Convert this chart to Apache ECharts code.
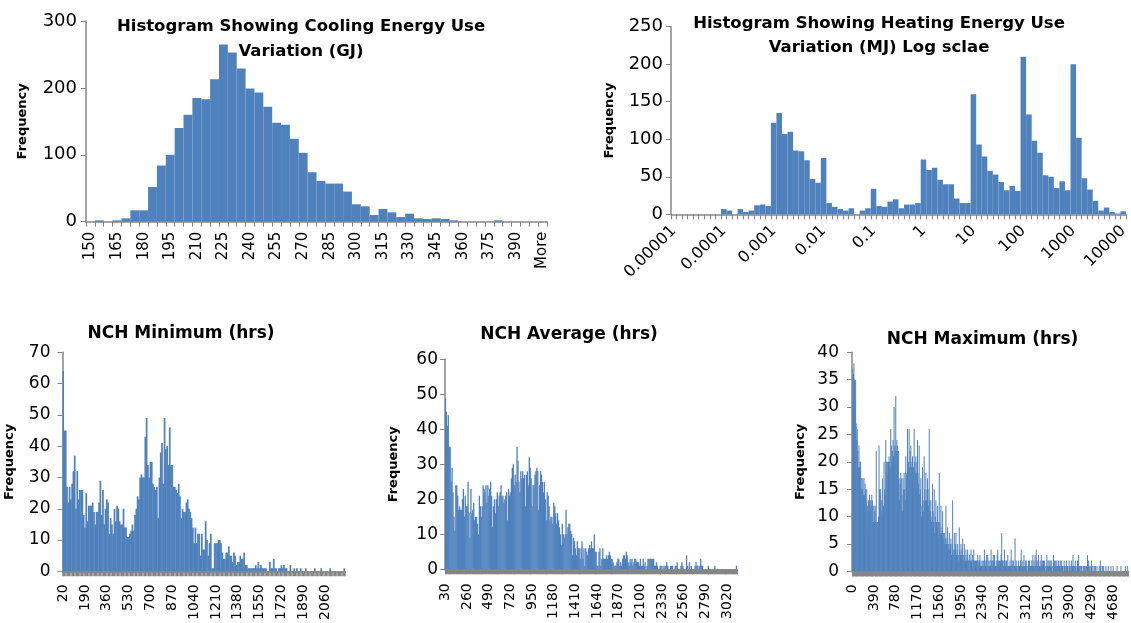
<!DOCTYPE html>
<html><head><meta charset="utf-8">
<script src="https://cdn.jsdelivr.net/npm/echarts@6/dist/echarts.min.js"></script>
<style>html,body{margin:0;padding:0;background:#fff}#c{width:1131px;height:623px}</style>
</head><body><div id="c"></div>
<script>
// ---------- DATA ----------
// Cooling energy (GJ): bins 150..400 step 5, plus "More"
const coolingStart = 150, coolingStep = 5, coolingLast = 400;
const coolingValues = [0,2,0,2,5,17,17,52,84,100,140,160,185,183,213,265,253,229,199,193,172,148,145,124,103,74,61,57,57,45,26,23,10,19,14,7,12,5,4,5,4,2,0,0,0,0,2,0,0,0,0,0];

// Heating energy (MJ), log bins: 1..9 x 10^k for k=-5..3, then 10000
const heatingDecadeLabels = ["0.00001","0.0001","0.001","0.01","0.1","1","10","100","1000","10000"];
const heatingValues = [0,0,0,0,0,0,0,0,0, 7,5,0,7,3,5,12,13,11, 122,135,107,110,85,84,72,47,42, 75,15,10,7,5,8,0,5,8, 34,11,10,17,20,8,13,13,15, 73,59,62,46,40,40,21,15,15, 160,93,77,58,53,43,32,38,31, 210,133,98,82,52,50,35,44,32, 200,102,48,33,18,5,9,3,1, 4];

// NCH Minimum (hrs): bins from 20, step 10
const minStart = 20, minStep = 10;
const minValues = [64,45,45,27,22,27,23,28,32,37, 20,32,23,26,26,26,18,14,25,16, 21,21,21,22,19,15,19,19,22,29, 18,26,15,20,23,22,12,17,15,12, 20,16,21,20,16,15,15,20,14,14, 11,11,12,13,15,13,18,20,24,23, 30,31,30,30,43,49,34,30,35,35, 28,27,26,27,17,30,38,41,28,49, 39,40,34,46,34,34,27,27,26,25, 28,24,17,20,19,19,22,23,20,19, 17,14,9,14,9,12,12,5,12,7, 7,16,10,5,9,12,1,1,9,9, 9,10,10,9,6,4,4,6,6,8, 5,5,3,6,5,2,3,3,5,4, 4,6,2,2,1,1,1,1,1,1, 2,1,3,1,2,1,1,1,1,0, 0,3,1,1,4,1,1,0,1,1, 2,1,2,1,1,0,0,2,0,0, 1,0,1,0,0,1,0,0,0,1, 0,0,0,0,0,0,1,0,0,0, 0,1,0,0,0,0,0,0,1,0, 0,0,0,0,0,0,0,0,0,1];

// NCH Average (hrs): bins from 30, step 10
const avgStart = 30, avgStep = 10;
const avgValues = [49,45,41,44,35,35,25,29,22,15,11,24,24,21,17, 18, 17,17,20,23,15,21,18,18,25,16,9,23,16,17,19, 14, 15,15,13,10,21,18,15,18,24,23,22,24,19,24,21, 23, 25,21,12,18,20,16,20,22,18,21,22,24,21,21,19, 20, 21,22,14,23,21,22,26,29,30,24, 27, 25,35,31,25,22,28,26,28,26,27,18,27,28,24,32, 29, 26,18,24,24,27,28,29,28,17,24,28,27,25,22,25, 20, 14,22,21,18,14,15,15,13,19,18,16,13,16,14,12, 10, 7,13,10,9,10,17,10,12,13,13,11,10,4,9,8, 6, 4,8,6,6,3,6,8,3,6,1,6, 5, 4,6,7,6,8,
 6,6,10,5,5,1,1,5,6,1,3,6,3,3,3,4,3,4, 5, 4,3,3,2,1,1,1,2,3,3,1,2,1,3,4,4,3,5, 4, 2,1,3,2,3,1,2,3,3,2,2,2,1,3,1,1,3,1, 2, 0,1,3,3,3,3,3,3,3,1,1,2,1,0,0,1,1,0, 1, 0,1,1,2,1,0,0,1,1,1,0,0,1,1,2,0,0,0, 1, 2,1,0,0,0,4,1,0,2,0,1,0,0,0,1,2,1,1, 0, 1,3,1,1,0,0,0,0,0,1,0,0,0,0,0,0,1,0, 0, 0,0,0,0,0,0,0,0,0,0,0,0,0,0,0,0,0,0,0,0,1];

// NCH Maximum (hrs): bins from 0, step 10
const maxStart = 0, maxStep = 10;
const maxValues = [
31,37,36, 38,35,31, 35,27,24, 26,22,19, 23,19,20, 20,15,17, 15,17,14, 17,14,16, 15,13,15, 12,11,13,
7,14,11, 13,12,14, 13,12,9, 12,11,12, 9,22,9, 9,8,10, 23,15,14, 15,11,13, 17,10,12, 20,15,14,
24,20,18, 20,15,20, 21,20,19, 26,23,20, 22,24,21, 30,23,22, 32,22,24, 23,17,22, 17,13,16, 18,17,14,
11,17,15, 18,15,13, 21,18,17, 26,18,20, 26,19,22, 23,19,20, 21,16,19, 26,20,18, 21,18,20, 24,18,16,
23,14,15, 17,10,12, 19,13,11, 21,15,13, 18,13,15, 17,15,12, 26,13,11, 13,9,10, 16,11,9, 15,7,10,
13,9,8, 12,6,9, 18,9,7, 12,7,8, 11,6,7, 7,5,6, 12,5,6, 8,4,5, 7,4,5, 6,3,5,
13,4,3, 7,4,5, 7,3,4, 5,3,2, 8,4,3, 5,3,4, 6,3,2, 5,3,2, 4,2,3, 4,2,2,
3,0,2, 4,2,1, 3,2,4, 2,1,2, 1,2,2, 3,1,2, 2,3,1, 2,1,1, 2,1,2, 4,2,1,
2,3,1, 3,1,2, 1,2,1, 4,2,1, 2,3,2, 3,1,1, 2,1,3, 4,2,1, 2,1,2, 3,7,2,
2,1,2, 4,2,1, 2,2,1, 3,1,1, 1,2,1, 4,1,2, 1,2,0, 1,6,1, 2,1,1, 0,2,1,
1,1,2, 4,1,1, 2,1,3, 1,1,2, 2,1,0, 1,2,1, 2,1,1, 1,2,1, 3,1,2, 1,3,1,
4,2,1, 2,3,1, 1,2,1, 3,1,2, 1,2,1, 2,1,0, 1,3,1, 2,1,2, 1,2,1, 2,1,0,
1,3,1, 2,1,2, 1,2,1, 0,2,1, 1,2,1, 2,1,1, 1,0,2, 1,1,0, 2,1,1, 1,0,2,
1,1,0, 2,1,1, 3,1,0, 1,2,1, 0,1,2, 1,3,1, 1,0,1, 1,1,0, 0,1,1, 1,0,1,
1,0,3, 1,2,0, 1,0,1, 2,1,0, 1,0,0, 1,1,0, 0,1,0, 0,0,1, 0,2,1, 0,0,1,
0,1,0, 0,0,1, 0,0,0, 1,0,0, 0,0,1, 0,0,0, 1,0,0, 0,0,0, 0,1,0, 0,0,0,
0,0,1, 0,0,0, 0,0,0, 0,1,0, 0,0,1, 0];

// ---------- CATEGORIES ----------
function binCats(start, step, n) { const a = []; for (let i = 0; i < n; i++) a.push(String(start + i * step)); return a; }
const coolingCats = binCats(coolingStart, coolingStep, (coolingLast - coolingStart) / coolingStep + 1).concat(["More"]);
const heatingCats = [];
for (let d = 0; d < 9; d++) { for (let m = 1; m <= 9; m++) heatingCats.push(m === 1 ? heatingDecadeLabels[d] : (m + "e" + (d - 5))); }
heatingCats.push(heatingDecadeLabels[9]);
const minCats = binCats(minStart, minStep, minValues.length);
const avgCats = binCats(avgStart, avgStep, avgValues.length);
const maxCats = binCats(maxStart, maxStep, maxValues.length);

// ---------- CHART ----------
const FONT = 'DejaVu Sans';
const AX = '#868686';
const BAR = '#4F81BD';

const grids = [
  {left: 86, top: 21, width: 461, height: 200.7},
  {left: 671, top: 26.7, width: 457, height: 187.6},
  {left: 62.5, top: 352.3, width: 282.5, height: 221.7},
  {left: 445, top: 359.3, width: 292, height: 210},
  {left: 852, top: 352.3, width: 276.5, height: 221}
];

function xAx(i, cats, o) {
  return {
    type: 'category', gridIndex: i, data: cats,
    axisLine: {show: true, lineStyle: {color: AX, width: 1.5}},
    axisTick: {show: true, interval: 0, length: o.tickLen, lineStyle: {color: AX, width: o.tickW}},
    axisLabel: {interval: o.interval, rotate: o.rotate, fontSize: o.fs, fontFamily: FONT, color: '#000', margin: o.margin},
    splitLine: {show: false}
  };
}
function yAx(i, max, interval, o) {
  return {
    type: 'value', gridIndex: i, min: 0, max: max, interval: interval,
    axisLine: {show: true, lineStyle: {color: AX, width: 1.5}},
    axisTick: {show: true, length: 5, lineStyle: {color: AX, width: 1}},
    splitLine: {show: false},
    axisLabel: {fontSize: o.fs, fontFamily: FONT, color: '#000', margin: o.margin},
    name: 'Frequency', nameLocation: 'middle', nameGap: o.nameGap, nameRotate: 90,
    nameTextStyle: {fontWeight: 'bold', fontSize: 13, fontFamily: FONT, color: '#000'}
  };
}
function ser(i, data, gap) {
  return {type: 'bar', xAxisIndex: i, yAxisIndex: i, data: data, barCategoryGap: gap, barGap: '0%',
    itemStyle: {color: BAR}, silent: true, large: false};
}
function ttl(text, x, y, fs, lh) {
  return {text: text, left: x, top: y, textAlign: 'center', padding: 0,
    textStyle: {fontFamily: FONT, fontWeight: 'bold', fontSize: fs, lineHeight: lh, color: '#000'}};
}

const option = {
  animation: false,
  backgroundColor: '#fff',
  title: [
    ttl('Histogram Showing Cooling Energy Use\nVariation (GJ)', 301, 14.5, 16.5, 25),
    ttl('Histogram Showing Heating Energy Use\nVariation (MJ) Log sclae', 879, 11.5, 16.5, 24),
    ttl('NCH Minimum (hrs)', 181, 323.5, 17, 20),
    ttl('NCH Average (hrs)', 569, 324.5, 17, 20),
    ttl('NCH Maximum (hrs)', 982.5, 330, 17, 20)
  ],
  grid: grids,
  xAxis: [
    xAx(0, coolingCats, {tickLen: 5, tickW: 1, interval: 2, rotate: 90, fs: 15, margin: 10}),
    xAx(1, heatingCats, {tickLen: 5, tickW: 1, interval: 8, rotate: 45, fs: 16, margin: 14}),
    xAx(2, minCats, {tickLen: 5, tickW: 1.5, interval: 16, rotate: 90, fs: 14, margin: 13}),
    xAx(3, avgCats, {tickLen: 5, tickW: 1.2, interval: 22, rotate: 90, fs: 14, margin: 14}),
    xAx(4, maxCats, {tickLen: 5, tickW: 1, interval: 38, rotate: 90, fs: 14, margin: 13})
  ],
  yAxis: [
    yAx(0, 300, 100, {fs: 18, margin: 9, nameGap: 57}),
    yAx(1, 250, 50, {fs: 18, margin: 8, nameGap: 55}),
    yAx(2, 70, 10, {fs: 17, margin: 12, nameGap: 46}),
    yAx(3, 60, 10, {fs: 17, margin: 7, nameGap: 45}),
    yAx(4, 40, 5, {fs: 17, margin: 13, nameGap: 45})
  ],
  series: [
    ser(0, coolingValues, '0%'), ser(1, heatingValues, '0%'),
    ser(2, minValues, '-35%'), ser(3, avgValues, '-40%'), ser(4, maxValues, '-30%')
  ]
};
const chart = echarts.init(document.getElementById('c'), null, {renderer: 'canvas'});
chart.setOption(option);
</script>
</body></html>
